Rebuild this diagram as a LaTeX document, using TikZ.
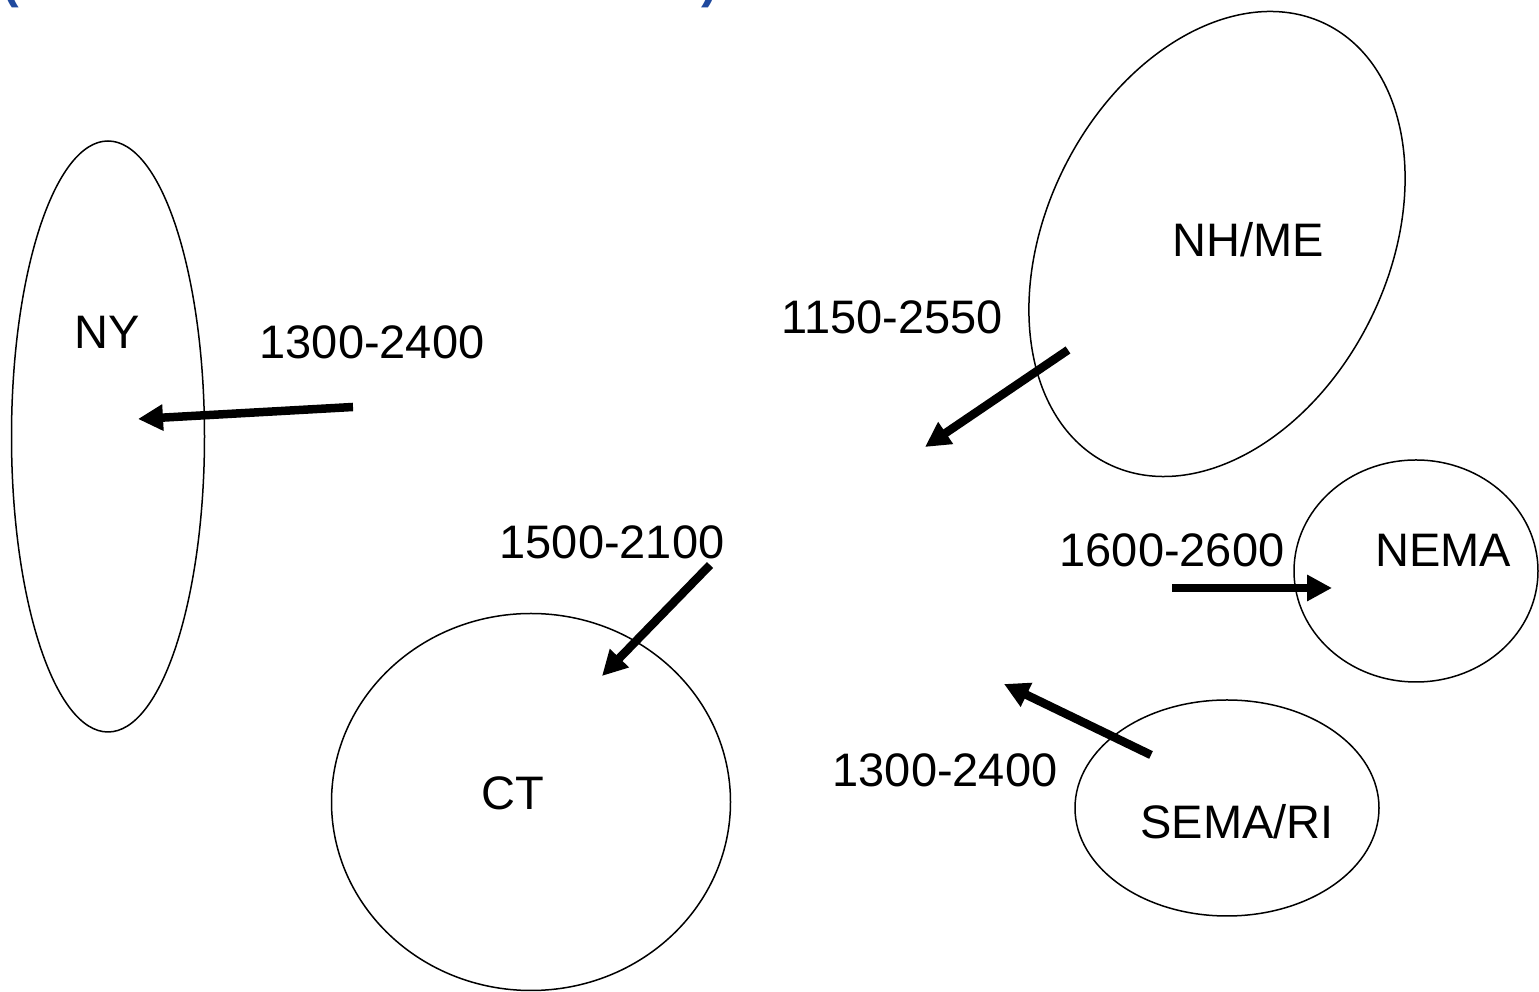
\documentclass[tikz,border=0pt]{standalone}
\usepackage{fontspec}
\setmainfont{Liberation Sans}
\usepackage{xcolor}
\usetikzlibrary{shapes.geometric,arrows.meta}

\definecolor{titleblue}{RGB}{31,73,158}

\begin{document}
\begin{tikzpicture}[x=1pt, y=1pt,
    region/.style={ellipse, draw, line width=1.5pt, inner sep=0pt},
    label/.style={font=\fontsize{47}{56}\selectfont, inner sep=0pt},
    flow/.style={line width=8.5pt, -{Triangle[length=25pt,width=25pt]}}]

    \useasboundingbox (0,0) rectangle (1539,992);

    % title, cut off at the top
    \node[anchor=base west, text=titleblue, font=\fontsize{50}{60}\selectfont\bfseries, inner sep=0pt] (tleft) at (2,994) {(};
    \node[anchor=base east, text=titleblue, font=\fontsize{50}{60}\selectfont\bfseries, inner sep=0pt] (tright) at (718,994) {)};

    % regions
    \node[region, minimum width=193pt, minimum height=591pt] (ny) at (108,555.5) {};
    \node[region, minimum width=399pt, minimum height=377pt] (ct) at (531,190) {};
    \node[region, minimum width=490.8pt, minimum height=341.8pt, rotate=63.5] (nhme) at (1217,748) {};
    \node[region, minimum width=244pt, minimum height=222pt] (nema) at (1416,421) {};
    \node[region, minimum width=304pt, minimum height=216pt] (semari) at (1227,184) {};

    % region names
    \node[label] (nyname) at (107,660) {NY};
    \node[label] (ctname) at (513,199) {CT};
    \node[label] (nhmename) at (1248,752) {NH/ME};
    \node[label] (nemaname) at (1443,442) {NEMA};
    \node[label] (seminame) at (1237,170) {SEMA/RI};

    % ranges
    \node[label] (nyrange) at (372,650) {1300-2400};
    \node[label] (nhmerange) at (892,675) {1150-2550};
    \node[label] (ctrange) at (612,450) {1500-2100};
    \node[label] (nemarange) at (1172,442) {1600-2600};
    \node[label] (semirange) at (945,222) {1300-2400};

    % flows
    \coordinate (nyfrom) at (353,585);
    \coordinate (nyto) at (138,573);
    \coordinate (nhmefrom) at (1068,642);
    \coordinate (nhmeto) at (925,545);
    \coordinate (ctfrom) at (710,427);
    \coordinate (ctto) at (602,316);
    \coordinate (nemafrom) at (1172,404);
    \coordinate (nemato) at (1332,404);
    \coordinate (semifrom) at (1151,237);
    \coordinate (semito) at (1004,308);

    \draw[flow] (nyfrom) -- (nyto);
    \draw[flow] (nhmefrom) -- (nhmeto);
    \draw[flow] (ctfrom) -- (ctto);
    \draw[flow] (nemafrom) -- (nemato);
    \draw[flow] (semifrom) -- (semito);
\end{tikzpicture}
\end{document}
